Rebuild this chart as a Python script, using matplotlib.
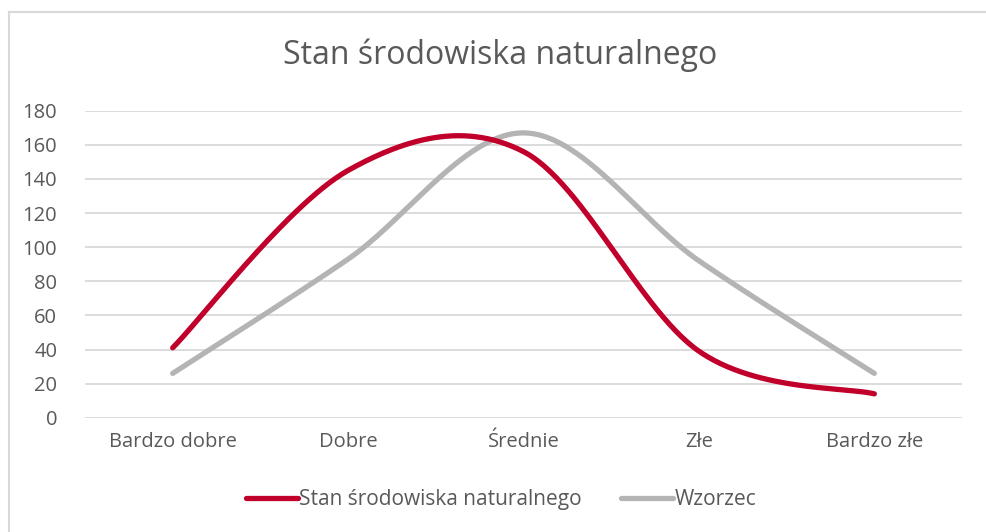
import numpy as np
import matplotlib
matplotlib.use("Agg")
import matplotlib.pyplot as plt
from matplotlib.lines import Line2D

plt.rcParams['font.family'] = ['Open Sans', 'DejaVu Sans']

categories = ["Bardzo dobre", "Dobre", "Średnie", "Złe", "Bardzo złe"]
stan = [41, 145, 156, 39, 14]
wzorzec = [26, 93, 167, 92, 26]
y_ticks = [0, 20, 40, 60, 80, 100, 120, 140, 160, 180]

RED = "#C0002A"
GRAY = "#B4B4B4"
TEXT = "#595959"


def smooth(ys, n=60):
    # Excel-like smoothed line: cubic Bezier with Catmull-Rom control points
    xs = np.arange(len(ys), dtype=float)
    ys = np.asarray(ys, dtype=float)
    px, py = [], []
    for i in range(len(ys) - 1):
        x0, y0 = (xs[i - 1], ys[i - 1]) if i > 0 else (xs[i], ys[i])
        x3, y3 = (xs[i + 2], ys[i + 2]) if i + 2 < len(ys) else (xs[i + 1], ys[i + 1])
        x1, y1 = xs[i], ys[i]
        x2, y2 = xs[i + 1], ys[i + 1]
        c1x, c1y = x1 + (x2 - x0) / 6, y1 + (y2 - y0) / 6
        c2x, c2y = x2 - (x3 - x1) / 6, y2 - (y3 - y1) / 6
        t = np.linspace(0, 1, n)
        bx = (1-t)**3*x1 + 3*(1-t)**2*t*c1x + 3*(1-t)*t**2*c2x + t**3*x2
        by = (1-t)**3*y1 + 3*(1-t)**2*t*c1y + 3*(1-t)*t**2*c2y + t**3*y2
        px.extend(bx)
        py.extend(by)
    return np.array(px), np.array(py)


fig = plt.figure(figsize=(9.86, 5.32), dpi=100)
ax = fig.add_axes([0.0862, 0.2148, 0.8895, 0.5771])

sx, sy = smooth(stan)
ax.plot(sx, sy, color=RED, lw=3.8, solid_capstyle='round', label="Stan środowiska naturalnego", zorder=3)
gx, gy = smooth(wzorzec)
ax.plot(gx, gy, color=GRAY, lw=3.8, solid_capstyle='round', label="Wzorzec", zorder=2)

ax.set_xlim(-0.5, len(categories) - 0.5)
ax.set_ylim(0, 180)
ax.set_yticks(y_ticks)
ax.set_xticks(range(len(categories)))
ax.set_xticklabels(categories)
ax.tick_params(axis='both', length=0, labelsize=14.5, colors=TEXT)
ax.tick_params(axis='y', pad=20)
ax.tick_params(axis='x', pad=10)
ax.grid(axis='y', color="#D9D9D9", lw=1.3)
ax.set_axisbelow(True)
for s in ax.spines.values():
    s.set_visible(False)

fig.text(0.507, 0.897, "Stan środowiska naturalnego", ha='center', va='center',
         fontsize=23, color=TEXT)

leg = fig.legend(loc='center', bbox_to_anchor=(0.508, 0.061), ncol=2, frameon=False,
                 fontsize=15, handlelength=2.5, handletextpad=0.05, columnspacing=1.9)
for t in leg.get_texts():
    t.set_color(TEXT)

# chart frame
fig.add_artist(Line2D([8.5 / 986, 8.5 / 986], [0, 1 - 12 / 532], transform=fig.transFigure,
                      color="#D9D9D9", lw=1.5))
fig.add_artist(Line2D([8.5 / 986, 1], [1 - 12 / 532, 1 - 12 / 532], transform=fig.transFigure,
                      color="#D9D9D9", lw=1.5))

fig.savefig("out.png", dpi=100)
